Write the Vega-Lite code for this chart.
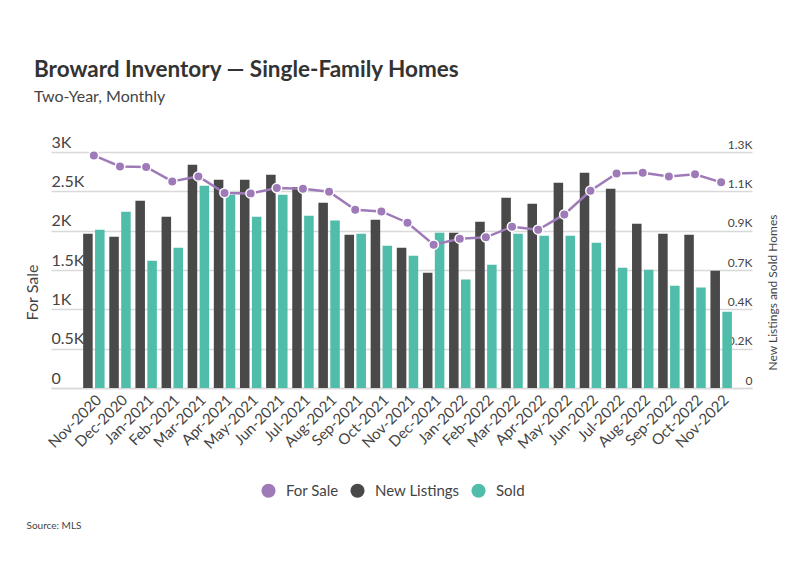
{
  "$schema": "https://vega.github.io/schema/vega-lite/v6.json",
  "autosize": {"type": "none"},
  "width": 701,
  "height": 236,
  "padding": {"left": 51, "top": 152, "right": 47, "bottom": 187},
  "background": "white",
  "config": {
    "font": "Lato, Roboto, sans-serif",
    "view": {"stroke": null}
  },
  "title": {
    "text": "Broward Inventory — Single-Family Homes",
    "subtitle": "Two-Year, Monthly",
    "anchor": "start",
    "frame": "group",
    "dx": -17,
    "offset": 29,
    "fontSize": 22.5,
    "fontWeight": "bold",
    "color": "#333333",
    "subtitleFontSize": 16,
    "subtitleColor": "#444444",
    "subtitlePadding": 8
  },
  "data": {
    "values": [
      {"month": "Nov-2020", "forSale": 2957, "newListings": 850, "sold": 872},
      {"month": "Dec-2020", "forSale": 2817, "newListings": 833, "sold": 971},
      {"month": "Jan-2021", "forSale": 2809, "newListings": 1032, "sold": 701},
      {"month": "Feb-2021", "forSale": 2626, "newListings": 944, "sold": 773},
      {"month": "Mar-2021", "forSale": 2690, "newListings": 1230, "sold": 1114},
      {"month": "Apr-2021", "forSale": 2479, "newListings": 1147, "sold": 1065},
      {"month": "May-2021", "forSale": 2474, "newListings": 1147, "sold": 944},
      {"month": "Jun-2021", "forSale": 2542, "newListings": 1175, "sold": 1065},
      {"month": "Jul-2021", "forSale": 2534, "newListings": 1107, "sold": 949},
      {"month": "Aug-2021", "forSale": 2495, "newListings": 1021, "sold": 922},
      {"month": "Sep-2021", "forSale": 2267, "newListings": 844, "sold": 850},
      {"month": "Oct-2021", "forSale": 2245, "newListings": 927, "sold": 784},
      {"month": "Nov-2021", "forSale": 2101, "newListings": 773, "sold": 729},
      {"month": "Dec-2021", "forSale": 1822, "newListings": 635, "sold": 855},
      {"month": "Jan-2022", "forSale": 1898, "newListings": 855, "sold": 597},
      {"month": "Feb-2022", "forSale": 1915, "newListings": 916, "sold": 679},
      {"month": "Mar-2022", "forSale": 2051, "newListings": 1048, "sold": 850},
      {"month": "Apr-2022", "forSale": 2012, "newListings": 1015, "sold": 839},
      {"month": "May-2022", "forSale": 2207, "newListings": 1131, "sold": 839},
      {"month": "Jun-2022", "forSale": 2508, "newListings": 1186, "sold": 800},
      {"month": "Jul-2022", "forSale": 2728, "newListings": 1098, "sold": 663},
      {"month": "Aug-2022", "forSale": 2737, "newListings": 905, "sold": 652},
      {"month": "Sep-2022", "forSale": 2690, "newListings": 850, "sold": 563},
      {"month": "Oct-2022", "forSale": 2716, "newListings": 844, "sold": 553},
      {"month": "Nov-2022", "forSale": 2614, "newListings": 646, "sold": 420}
    ]
  },
  "encoding": {
    "x": {
      "field": "month",
      "type": "nominal",
      "sort": null,
      "scale": {"paddingInner": 0.18, "paddingOuter": 1.175, "align": 0.615},
      "axis": {
        "title": "Source: MLS",
        "titleFontSize": 10,
        "titleFontWeight": "normal",
        "titleColor": "#444444",
        "titleAnchor": "start",
        "titleAlign": "left",
        "titleBaseline": "alphabetic",
        "titleX": -25,
        "titleY": 140,
        "labelAngle": -45,
        "labelFontSize": 15,
        "labelColor": "#444444",
        "labelPadding": 4,
        "ticks": false,
        "tickSize": 0,
        "domain": true,
        "domainColor": "#d9d9d9",
        "domainWidth": 1.5,
        "grid": false
      }
    }
  },
  "layer": [
    {
      "transform": [{"fold": ["newListings", "sold"], "as": ["series", "value"]}],
      "mark": {"type": "bar"},
      "encoding": {
        "xOffset": {"field": "series", "type": "nominal", "scale": {"paddingInner": 0.2}},
        "y": {
          "field": "value",
          "type": "quantitative",
          "scale": {"domain": [0, 1300], "nice": false},
          "axis": {
            "orient": "right",
            "title": "New Listings and Sold Homes",
            "titleFontSize": 12,
            "titleFontWeight": "normal",
            "titleColor": "#444444",
            "titleAngle": -90,
            "titleAlign": "center",
            "titleBaseline": "middle",
            "titleX": 20,
            "titleY": 140,
            "values": [0, 216.6667, 433.3333, 650, 866.6667, 1083.3333, 1300],
            "labelExpr": "datum.value == 0 ? '0' : format(round(datum.value / 100) / 10, '.1f') + 'K'",
            "labelAlign": "right",
            "labelBaseline": "alphabetic",
            "labelPadding": 0,
            "labelOffset": -4,
            "labelFontSize": 12,
            "labelColor": "#444444",
            "labelOverlap": false,
            "labelFlush": false,
            "ticks": false,
            "tickSize": 0,
            "domain": false,
            "grid": false
          }
        },
        "color": {
          "field": "series",
          "type": "nominal",
          "scale": {
            "domain": ["forSale", "newListings", "sold"],
            "range": ["#9e7bb8", "#494949", "#4fbda9"]
          },
          "legend": {
            "orient": "none",
            "legendX": 210,
            "legendY": 331,
            "direction": "horizontal",
            "title": null,
            "padding": 0,
            "symbolType": "circle",
            "symbolSize": 200,
            "symbolStrokeWidth": 0,
            "symbolOpacity": 1,
            "labelFontSize": 15,
            "labelColor": "#444444",
            "labelOffset": 10,
            "columnPadding": 11,
            "labelExpr": "datum.value == 'forSale' ? 'For Sale' : datum.value == 'newListings' ? 'New Listings' : 'Sold'"
          }
        }
      }
    },
    {
      "encoding": {
        "y": {
          "field": "forSale",
          "type": "quantitative",
          "scale": {"domain": [0, 3000], "nice": false},
          "axis": {
            "orient": "left",
            "title": "For Sale",
            "titleFontSize": 16,
            "titleFontWeight": "normal",
            "titleColor": "#444444",
            "titleAngle": -90,
            "titleAlign": "center",
            "titleBaseline": "middle",
            "titleX": -19,
            "titleY": 140,
            "values": [0, 500, 1000, 1500, 2000, 2500, 3000],
            "labelExpr": "datum.value == 0 ? '0' : format(datum.value / 1000, '~g') + 'K'",
            "labelAlign": "left",
            "labelBaseline": "alphabetic",
            "labelPadding": 0,
            "labelOffset": -5,
            "labelFontSize": 16,
            "labelColor": "#444444",
            "labelOverlap": false,
            "labelFlush": false,
            "ticks": false,
            "tickSize": 0,
            "domain": false,
            "grid": true,
            "gridColor": "#d9d9d9",
            "gridWidth": 1.5
          }
        }
      },
      "layer": [
        {
          "mark": {"type": "line", "color": "#9e7bb8", "strokeWidth": 2.5}
        },
        {
          "mark": {"type": "point", "filled": true, "size": 90, "stroke": "white", "strokeWidth": 1.5, "opacity": 1},
          "encoding": {
            "color": {"datum": "forSale", "type": "nominal"}
          }
        }
      ]
    }
  ],
  "resolve": {"scale": {"y": "independent"}}
}
